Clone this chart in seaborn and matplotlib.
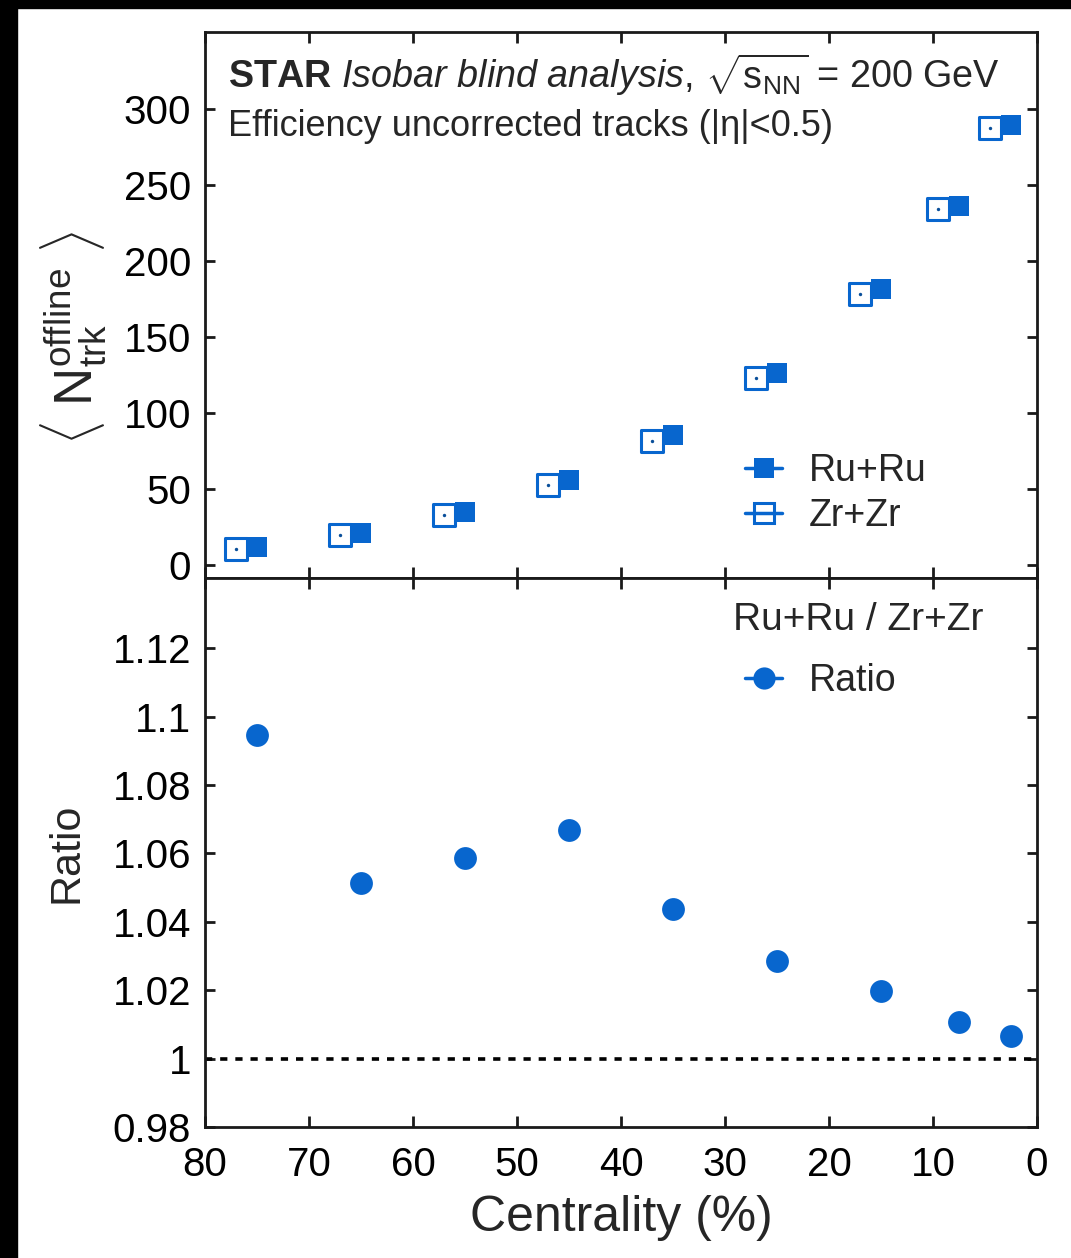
import numpy as np
import matplotlib
matplotlib.use("Agg")
import matplotlib.pyplot as plt
import seaborn as sns
from matplotlib.lines import Line2D
from matplotlib.patches import Rectangle

# Centrality bin centres (%): 70-80, 60-70, ..., 5-10, 0-5
centrality = [75, 65, 55, 45, 35, 25, 15, 7.5, 2.5]
# Mean number of offline tracks per bin
ntrk_ru = [11.8, 20.9, 34.9, 55.9, 85.5, 126.3, 181.6, 236.4, 289.1]
ntrk_zr = [10.8, 19.9, 33.0, 52.4, 81.9, 122.8, 178.1, 233.9, 287.2]
# Ru+Ru / Zr+Zr
ratio = [1.0945, 1.0514, 1.0588, 1.0667, 1.0438, 1.0286, 1.0198, 1.0107, 1.0066]

zr_shift = 2.0  # Zr+Zr points drawn slightly displaced for visibility

x_ticks = [80, 70, 60, 50, 40, 30, 20, 10, 0]
ntrk_ticks = [0, 50, 100, 150, 200, 250, 300]
ratio_ticks = [0.98, 1.0, 1.02, 1.04, 1.06, 1.08, 1.10, 1.12]
ratio_tick_labels = ["0.98", "1", "1.02", "1.04", "1.06", "1.08", "1.1", "1.12"]

BLUE = "#0866CE"
FONT = "Liberation Sans"

sns.set_theme(style="ticks")
plt.rcParams["font.family"] = [FONT, "DejaVu Sans"]
plt.rcParams["mathtext.fontset"] = "custom"
plt.rcParams["mathtext.rm"] = FONT
plt.rcParams["mathtext.sf"] = FONT
plt.rcParams["mathtext.it"] = FONT + ":italic"
plt.rcParams["mathtext.bf"] = FONT + ":bold"
plt.rcParams["axes.linewidth"] = 2.0
plt.rcParams["axes.edgecolor"] = "#1a1a1a"

fig = plt.figure(figsize=(10.71, 12.58), dpi=100)
fig.patch.set_facecolor("white")
ax1 = fig.add_axes([0.1914, 0.5405, 0.7769, 0.4341])
ax2 = fig.add_axes([0.1914, 0.1041, 0.7769, 0.4364], sharex=ax1)

# dark frame along the top and left of the canvas
fig.add_artist(Rectangle((0, 1 - 8 / 1258), 1, 8 / 1258, transform=fig.transFigure,
                         color="black", zorder=10))
fig.add_artist(Rectangle((0, 0), 17 / 1071, 1, transform=fig.transFigure,
                         color="black", zorder=10))

# ---- upper panel: <N_trk> ----
zr_x = np.array(centrality) + zr_shift
sns.scatterplot(x=centrality, y=ntrk_ru, marker="s", s=225, color=BLUE,
                linewidth=0, ax=ax1, zorder=3, legend=False)
sns.scatterplot(x=zr_x, y=ntrk_zr, marker="s", s=270, color="white",
                edgecolor=BLUE, linewidth=2.2, ax=ax1, zorder=4, legend=False)
sns.scatterplot(x=zr_x, y=ntrk_zr, marker="o", s=6, color="#0a4f9a",
                linewidth=0, ax=ax1, zorder=5, legend=False)

ax1.set_xlim(80, 0)
ax1.set_ylim(-8.5, 350.5)
ax1.set_yticks(ntrk_ticks)
ax1.set_xticks(x_ticks)
ax1.tick_params(axis="both", direction="in", top=True, right=True, width=2,
                labelsize=29, colors="#1a1a1a", labelcolor="black")
ax1.tick_params(axis="x", length=8, labelbottom=False)
ax1.tick_params(axis="y", length=7, pad=10)
ax1.set_xlabel("")
ax1.set_ylabel(r"$\langle\ \mathrm{N}_{\mathrm{trk}}^{\mathrm{offline}}\ \rangle$",
               fontsize=38)
ax1.yaxis.set_label_coords(-0.158, 0.44)
ax1.yaxis.label.set_verticalalignment("center")

ax1.text(0.0276, 0.897,
         r"$\mathbf{STAR}$ $\mathit{Isobar\ blind\ analysis,}\,"
         r"\sqrt{\mathrm{s}_{\mathrm{NN}}}$ = 200 GeV",
         transform=ax1.transAxes, fontsize=27.2, va="baseline", ha="left")
ax1.text(0.0276, 0.8095, "Efficiency uncorrected tracks (|η|<0.5)",
         transform=ax1.transAxes, fontsize=26, va="baseline", ha="left")

h_ru = Line2D([], [], color=BLUE, lw=2.5, marker="s", markersize=15,
              markeredgewidth=0)
h_zr = Line2D([], [], color=BLUE, lw=2.5, marker="s", markersize=14,
              markerfacecolor="none", markeredgecolor=BLUE, markeredgewidth=2.2)
ax1.legend([h_ru, h_zr], ["Ru+Ru", "Zr+Zr"], loc="upper left",
           bbox_to_anchor=(0.649, 0.229), frameon=False, fontsize=27,
           handlelength=1.0, handletextpad=0.7, labelspacing=0.25,
           borderpad=0, borderaxespad=0)

# ---- lower panel: ratio ----
sns.scatterplot(x=centrality, y=ratio, marker="o", s=270, color=BLUE,
                linewidth=0, ax=ax2, zorder=3, legend=False)
ax2.axhline(1.0, color="black", lw=2.6, ls=(0, (2.0, 2.2)), zorder=2)

ax2.set_xlim(80, 0)
ax2.set_ylim(0.98, 1.1405)
ax2.set_yticks(ratio_ticks)
ax2.set_yticklabels(ratio_tick_labels)
ax2.set_xticks(x_ticks)
ax2.set_xticklabels([str(t) for t in x_ticks])
ax2.tick_params(axis="both", direction="in", top=True, right=True, width=2,
                labelsize=29, colors="#1a1a1a", labelcolor="black")
ax2.tick_params(axis="x", length=8, pad=14)
ax2.tick_params(axis="y", length=7, pad=10)
ax2.set_xlabel("Centrality (%)", fontsize=36)
ax2.xaxis.set_label_coords(0.5, -0.165)
ax2.xaxis.label.set_verticalalignment("center")
ax2.set_ylabel("Ratio", fontsize=31)
ax2.yaxis.set_label_coords(-0.166, 0.5)
ax2.yaxis.label.set_verticalalignment("center")

ax2.text(0.6346, 0.9235, "Ru+Ru / Zr+Zr", transform=ax2.transAxes,
         fontsize=28, va="center", ha="left")
h_ratio = Line2D([], [], color=BLUE, lw=2.5, marker="o", markersize=16,
                 markeredgewidth=0)
ax2.legend([h_ratio], ["Ratio"], loc="upper left",
           bbox_to_anchor=(0.649, 0.845), frameon=False, fontsize=27,
           handlelength=1.0, handletextpad=0.7, borderpad=0, borderaxespad=0)

fig.savefig("out.png", dpi=100, facecolor="white")
